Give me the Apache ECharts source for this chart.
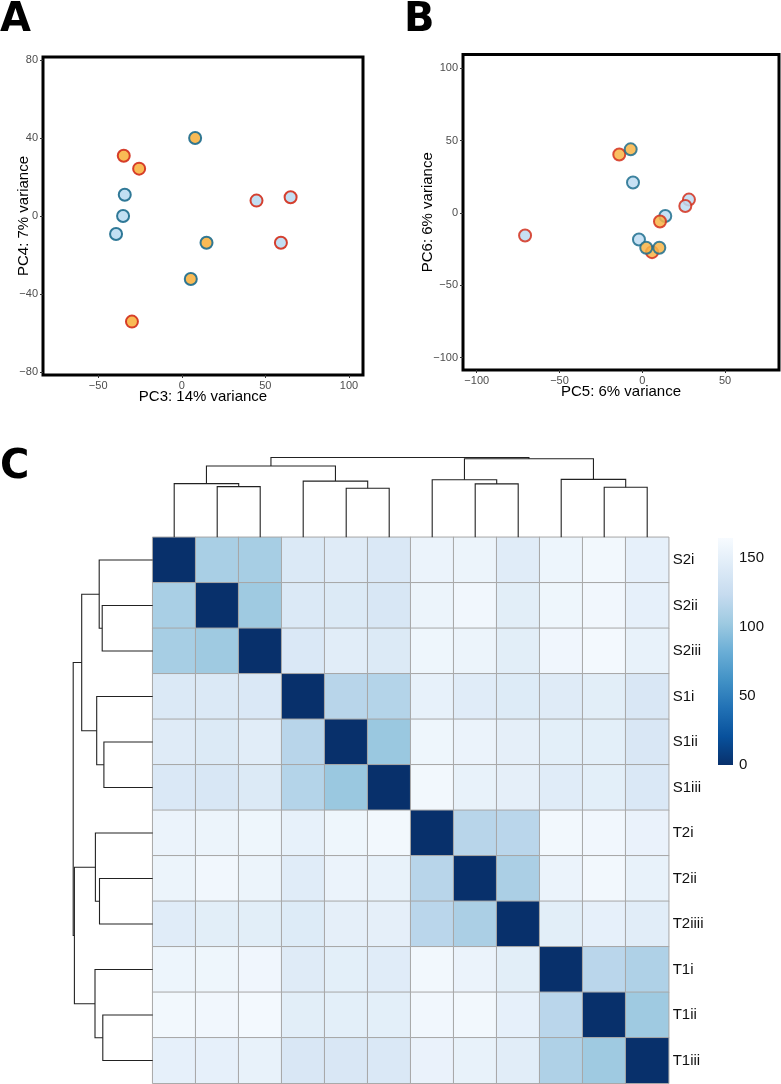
<!DOCTYPE html>
<html><head><meta charset="utf-8">
<script src="https://cdn.jsdelivr.net/npm/echarts@6/dist/echarts.min.js"></script>
<style>html,body{margin:0;padding:0;background:#fff}#c{width:781px;height:1084px}</style>
</head><body><div id="c"></div>
<script>
// ---------- Panel A: PC3 vs PC4 ----------
const pc3 = [8.0, -34.7, -25.5, -34.1, -35.1, -39.3, 44.7, 65.1, 59.3, 14.8, 5.4, -29.8];
const pc4 = [40.0, 30.9, 24.3, 10.9, 0.0, -9.2, 7.9, 9.6, -13.7, -13.7, -32.3, -54.2];
const groupA = ['OT','OR','OR','BT','BT','BT','BR','BR','BR','OT','OT','OR'];
const xTicksA = [-50, 0, 50, 100];
const yTicksA = [-80, -40, 0, 40, 80];

// ---------- Panel B: PC5 vs PC6 ----------
const pc5 = [-13.9, -7.0, -5.6, 28.2, 26.0, 13.9, 10.7, -70.8, -2.0, 2.4, 5.9, 10.3];
const pc6 = [40.3, 43.9, 21.0, 9.2, 4.8, -2.1, -5.9, -15.6, -18.4, -24.1, -27.1, -24.1];
const groupB = ['OR','OT','BT','BR','BR','BT','OR','BR','BT','OT','OR','OT'];
const xTicksB = [-100, -50, 0, 50];
const yTicksB = [-100, -50, 0, 50, 100];

// ---------- Panel C: sample distance heatmap ----------
const samples = ['S2i','S2ii','S2iii','S1i','S1ii','S1iii','T2i','T2ii','T2iiii','T1i','T1ii','T1iii'];
const distS2i    = [0,108,107,141,144,140,154,155,145,156,160,150];
const distS2ii   = [108,0,103,141,142,138,155,159,147,157,159,150];
const distS2iii  = [107,103,0,140,146,142,157,155,147,158,161,152];
const distS1i    = [141,141,140,0,116,114,151,145,143,144,147,139];
const distS1ii   = [144,142,146,116,0,101,157,154,149,148,148,139];
const distS1iii  = [140,138,142,114,101,0,160,152,149,145,148,140];
const distT2i    = [154,155,157,151,157,160,0,116,117,160,159,153];
const distT2ii   = [155,159,155,145,154,152,116,0,109,154,160,152];
const distT2iiii = [145,147,147,143,149,149,117,109,0,147,150,146];
const distT1i    = [156,157,158,144,148,145,160,154,147,0,117,111];
const distT1ii   = [160,159,161,147,148,148,159,160,150,117,0,103];
const distT1iii  = [150,150,152,139,139,140,153,152,146,111,103,0];
const distRows = [distS2i,distS2ii,distS2iii,distS1i,distS1ii,distS1iii,distT2i,distT2ii,distT2iiii,distT1i,distT1ii,distT1iii];
const colorTicks = [0, 50, 100, 150];
const colorMax = 164;

// hierarchical clustering (R hclust style: negative = leaf in display order, positive = earlier merge, 1-based)
const mergeLeft   = [-2, -1, -5, -4, 2, -8, -7, -11, -10, 7, 5];
const mergeRight  = [-3,  1, -6,  3, 4, -9,  6,  -12,   8, 9, 10];
const mergeHeight = [50.5, 53.5, 48.8, 56.0, 71.0, 53.2, 57.3, 49.9, 57.7, 78.3, 79.5];

// ---------- styles ----------
const groupOrder = ['BT','BR','OR','OT'];
const groupStyle = {
  BT: {fill:'#BDDCF2', stroke:'#1F6E8E'},
  BR: {fill:'#BDDCF2', stroke:'#D3301D'},
  OR: {fill:'#F8B447', stroke:'#D3301D'},
  OT: {fill:'#F8B447', stroke:'#1F6E8E'}
};
const blues = ['#08306B','#08519C','#2171B5','#4292C6','#6BAED6','#9ECAE1','#C6DBEF','#DEEBF7','#F7FBFF'];
const FONT = '"Liberation Sans", Arial, Helvetica, sans-serif';
const minus = v => String(v).replace('-', '\u2212');

function scatterSeries(xs, ys, gs, idx, op) {
  return groupOrder.map(g => ({
    type: 'scatter', xAxisIndex: idx, yAxisIndex: idx, symbolSize: 12,
    data: xs.map((x, i) => [x, ys[i], gs[i]]).filter(d => d[2] === g).map(d => [d[0], d[1]]),
    itemStyle: {color: groupStyle[g].fill, borderColor: groupStyle[g].stroke, borderWidth: 2, opacity: op},
    emphasis: {disabled: true}, silent: true
  }));
}

function dendroSegments(horizontal) {
  const pos = [], hgt = [], segs = [];
  const P = k => k < 0 ? (-k - 1) + 0.5 : pos[k - 1];
  const H = k => k < 0 ? 0 : hgt[k - 1];
  for (let m = 0; m < mergeLeft.length; m++) {
    const l = mergeLeft[m], r = mergeRight[m], h = mergeHeight[m];
    const pl = P(l), pr = P(r);
    pos.push((pl + pr) / 2); hgt.push(h);
    const pts = [[pl, H(l)], [pl, h], [pr, h], [pr, H(r)]];
    segs.push({coords: horizontal ? pts.map(p => [p[1], p[0]]) : pts});
  }
  return segs;
}

const heatData = [];
distRows.forEach((row, i) => row.forEach((v, j) => heatData.push([j, i, v])));
const rootH = Math.max(...mergeHeight);

function scatterXAxis(idx, min, max, ticks, name, gap) {
  return {
    type: 'value', gridIndex: idx, min, max, splitLine: {show: false},
    axisLine: {show: false, onZero: false},
    axisTick: {show: true, customValues: ticks, length: 3, lineStyle: {color: '#333', width: 1}},
    axisLabel: {customValues: ticks, fontSize: 11, color: '#4D4D4D', margin: 5, formatter: minus, fontFamily: FONT},
    name, nameLocation: 'middle', nameGap: gap, nameMoveOverlap: false,
    nameTextStyle: {fontSize: 15, color: '#000', fontFamily: FONT}
  };
}
function scatterYAxis(idx, min, max, ticks, name, gap) {
  const a = scatterXAxis(idx, min, max, ticks, name, gap);
  a.nameRotate = 90;
  return a;
}

const chart = echarts.init(document.getElementById('c'), null, {renderer: 'canvas'});
chart.setOption({
  animation: false,
  backgroundColor: '#fff',
  textStyle: {fontFamily: FONT},
  graphic: [
    {type: 'text', left: 0, top: 1, style: {text: 'A', font: 'bold 40px "DejaVu Sans"', fill: '#000'}},
    {type: 'text', left: 404, top: 1, style: {text: 'B', font: 'bold 40px "DejaVu Sans"', fill: '#000'}},
    {type: 'text', left: 0, top: 448, style: {text: 'C', font: 'bold 40px "DejaVu Sans"', fill: '#000'}}
  ],
  grid: [
    {left: 43, top: 57, width: 320, height: 318, show: true, borderColor: '#000', borderWidth: 3, backgroundColor: 'transparent', outerBoundsMode: 'none', containLabel: false},
    {left: 463, top: 54.5, width: 316, height: 315.5, show: true, borderColor: '#000', borderWidth: 3, backgroundColor: 'transparent', outerBoundsMode: 'none', containLabel: false},
    {left: 152.7, top: 537.3, width: 516, height: 546, outerBoundsMode: 'none', containLabel: false},
    {left: 152.7, top: 457.5, width: 516, height: 79.8, outerBoundsMode: 'none', containLabel: false},
    {left: 73.2, top: 537.3, width: 79.5, height: 546, outerBoundsMode: 'none', containLabel: false},
    {left: 718, top: 538, width: 15, height: 227, outerBoundsMode: 'none', containLabel: false}
  ],
  xAxis: [
    scatterXAxis(0, -83, 108.4, xTicksA, 'PC3: 14% variance', 14),
    scatterXAxis(1, -108.3, 82.6, xTicksB, 'PC5: 6% variance', 14),
    {type: 'category', gridIndex: 2, data: samples, show: false},
    {type: 'value', gridIndex: 3, min: 0, max: samples.length, show: false},
    {type: 'value', gridIndex: 4, min: 0, max: rootH, inverse: true, show: false},
    {type: 'category', gridIndex: 5, data: ['scale'], show: false}
  ],
  yAxis: [
    scatterYAxis(0, -81.6, 81.6, yTicksA, 'PC4: 7% variance', 12),
    scatterYAxis(1, -108.5, 109.4, yTicksB, 'PC6: 6% variance', 28),
    {type: 'category', gridIndex: 2, data: samples, inverse: true, position: 'right',
     axisLine: {show: false}, axisTick: {show: false}, splitLine: {show: false},
     axisLabel: {fontSize: 15, color: '#111', margin: 4, fontFamily: FONT}},
    {type: 'value', gridIndex: 3, min: 0, max: rootH, show: false},
    {type: 'value', gridIndex: 4, min: 0, max: samples.length, inverse: true, show: false},
    {type: 'value', gridIndex: 5, min: 0, max: colorMax, position: 'right',
     axisLine: {show: false}, axisTick: {show: false}, splitLine: {show: false},
     axisLabel: {customValues: colorTicks, fontSize: 15, color: '#111', margin: 6, fontFamily: FONT}}
  ],
  visualMap: {
    type: 'continuous', show: false, seriesIndex: 8, dimension: 2, min: 0, max: colorMax,
    inRange: {color: blues}
  },
  series: [
    ...scatterSeries(pc3, pc4, groupA, 0, 0.92),
    ...scatterSeries(pc5, pc6, groupB, 1, 0.85),
    {type: 'heatmap', xAxisIndex: 2, yAxisIndex: 2, data: heatData, silent: true,
     itemStyle: {borderColor: '#A6A6A6', borderWidth: 1}, emphasis: {disabled: true}},
    {type: 'lines', coordinateSystem: 'cartesian2d', xAxisIndex: 3, yAxisIndex: 3, polyline: true, silent: true,
     data: dendroSegments(false), lineStyle: {color: '#222', width: 1.1, opacity: 1}},
    {type: 'lines', coordinateSystem: 'cartesian2d', xAxisIndex: 4, yAxisIndex: 4, polyline: true, silent: true,
     data: dendroSegments(true), lineStyle: {color: '#222', width: 1.1, opacity: 1}},
    {type: 'bar', xAxisIndex: 5, yAxisIndex: 5, data: [colorMax], barWidth: '100%', silent: true,
     itemStyle: {color: new echarts.graphic.LinearGradient(0, 0, 0, 1,
       blues.slice().reverse().map((c, i) => ({offset: i / (blues.length - 1), color: c})))}}
  ]
});
</script>
</body></html>
